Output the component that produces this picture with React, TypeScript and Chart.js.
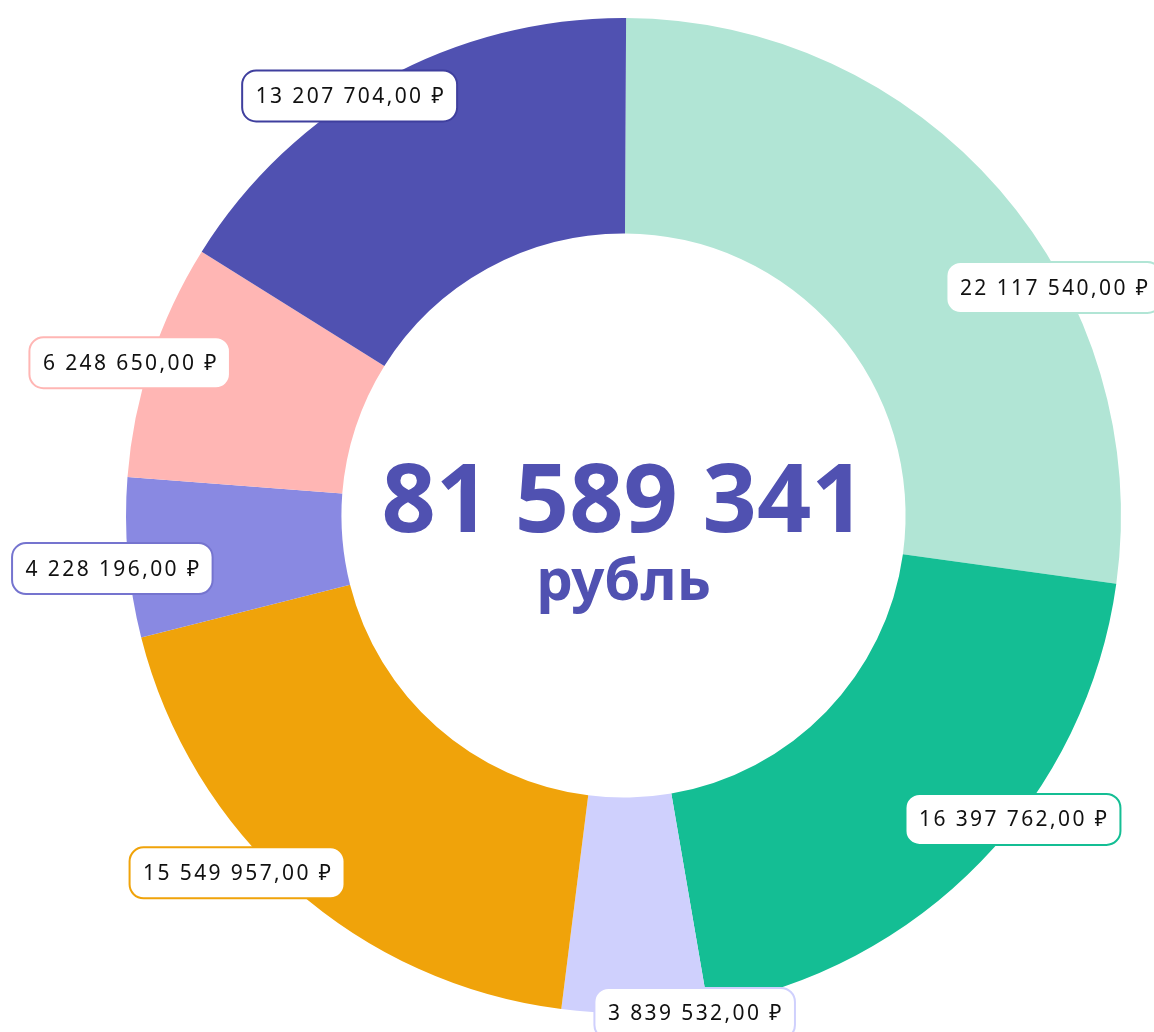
import React, { useEffect, useRef } from 'react';
import { Chart, registerables } from 'chart.js';

Chart.register(...registerables);

const categories = ['Категория A', 'Категория B', 'Категория C', 'Категория D', 'Категория E', 'Категория F', 'Категория G'];
const values = [22117540, 16397762, 3839532, 15549957, 4228196, 6248650, 13207704];
const segmentColors = ['#B1E5D5', '#14BE94', '#CFD0FD', '#F0A30A', '#8989E2', '#FFB6B4', '#5051B1'];
const labelBorderColors = ['#B1E5D5', '#14BE94', '#CFD0FD', '#F0A30A', '#7574CF', '#FFB6B4', '#3F3F9E'];
const unitLabel = 'рубль';
const currencySign = '₽';

// label layout relative to each slice (angle shift from mid-angle in degrees, radius factor)
const labelAngleShift = [13.0, -6.1, -6.85, 5.75, -1.05, -1.05, -4.3];
const labelRadiusFactor = [0.979, 0.993, 1.011, 1.058, 1.033, 1.039, 1.007];

function groupDigits(n: number): string {
  const s = Math.floor(n).toString();
  return s.replace(/\B(?=(\d{3})+(?!\d))/g, ' ');
}
function formatMoney(n: number): string {
  const frac = Math.round((n - Math.floor(n)) * 100).toString().padStart(2, '0');
  return groupDigits(n) + ',' + frac + ' ' + currencySign;
}

const total = values.reduce((a, b) => a + b, 0);

const labelPlugin = {
  id: 'sliceLabels',
  afterDatasetsDraw(chart: any) {
    const meta = chart.getDatasetMeta(0);
    const ctx = chart.ctx as CanvasRenderingContext2D;
    meta.data.forEach((arc: any, i: number) => {
      const p = arc.getProps(['x', 'y', 'startAngle', 'endAngle', 'outerRadius'], true);
      const mid = (p.startAngle + p.endAngle) / 2 + (labelAngleShift[i] * Math.PI) / 180;
      const r = p.outerRadius * labelRadiusFactor[i];
      const cx = p.x + Math.cos(mid) * r;
      const cy = p.y + Math.sin(mid) * r;
      const text = formatMoney(values[i]);
      ctx.save();
      ctx.font = '400 21px "Noto Sans"';
      (ctx as any).letterSpacing = '2.4px';
      const tw = ctx.measureText(text).width - 2.4;
      const w = tw + 27;
      const h = 51;
      ctx.beginPath();
      (ctx as any).roundRect(cx - w / 2, cy - h / 2, w, h, 14);
      ctx.fillStyle = '#ffffff';
      ctx.fill();
      ctx.lineWidth = 2;
      ctx.strokeStyle = labelBorderColors[i];
      ctx.stroke();
      ctx.fillStyle = '#111111';
      ctx.textAlign = 'left';
      ctx.textBaseline = 'middle';
      ctx.fillText(text, cx - tw / 2, cy + 1);
      ctx.restore();
    });
  },
};

const centerPlugin = {
  id: 'centerTotal',
  afterDraw(chart: any) {
    const meta = chart.getDatasetMeta(0);
    const arc = meta.data[0];
    if (!arc) return;
    const { x, y } = arc.getProps(['x', 'y'], true);
    const ctx = chart.ctx as CanvasRenderingContext2D;
    ctx.save();
    ctx.fillStyle = '#5051B1';
    ctx.textAlign = 'center';
    ctx.textBaseline = 'alphabetic';
    ctx.font = '700 95px "Noto Sans"';
    ctx.fillText(groupDigits(total), x, y + 16);
    ctx.font = '700 58px "Noto Sans"';
    ctx.fillText(unitLabel, x, y + 84);
    ctx.restore();
  },
};

export default function App() {
  const canvasRef = useRef<HTMLCanvasElement | null>(null);
  useEffect(() => {
    if (!canvasRef.current) return;
    const chart = new Chart(canvasRef.current, {
      type: 'doughnut',
      data: {
        labels: categories,
        datasets: [
          {
            data: values,
            backgroundColor: segmentColors,
            borderWidth: 0,
            hoverOffset: 0,
          },
        ],
      },
      options: {
        animation: false,
        responsive: true,
        maintainAspectRatio: false,
        cutout: '56.7%',
        rotation: 0.3,
        layout: { padding: { top: 18, bottom: 19, left: 93, right: 0 } },
        plugins: {
          legend: { display: false },
          tooltip: { enabled: false },
        },
      },
      plugins: [labelPlugin, centerPlugin],
    });
    return () => chart.destroy();
  }, []);
  return (
    <div style={{ position: 'fixed', left: 0, top: 0, width: 1154, height: 1032, background: '#fff', overflow: 'hidden' }}>
      <canvas ref={canvasRef} />
    </div>
  );
}
